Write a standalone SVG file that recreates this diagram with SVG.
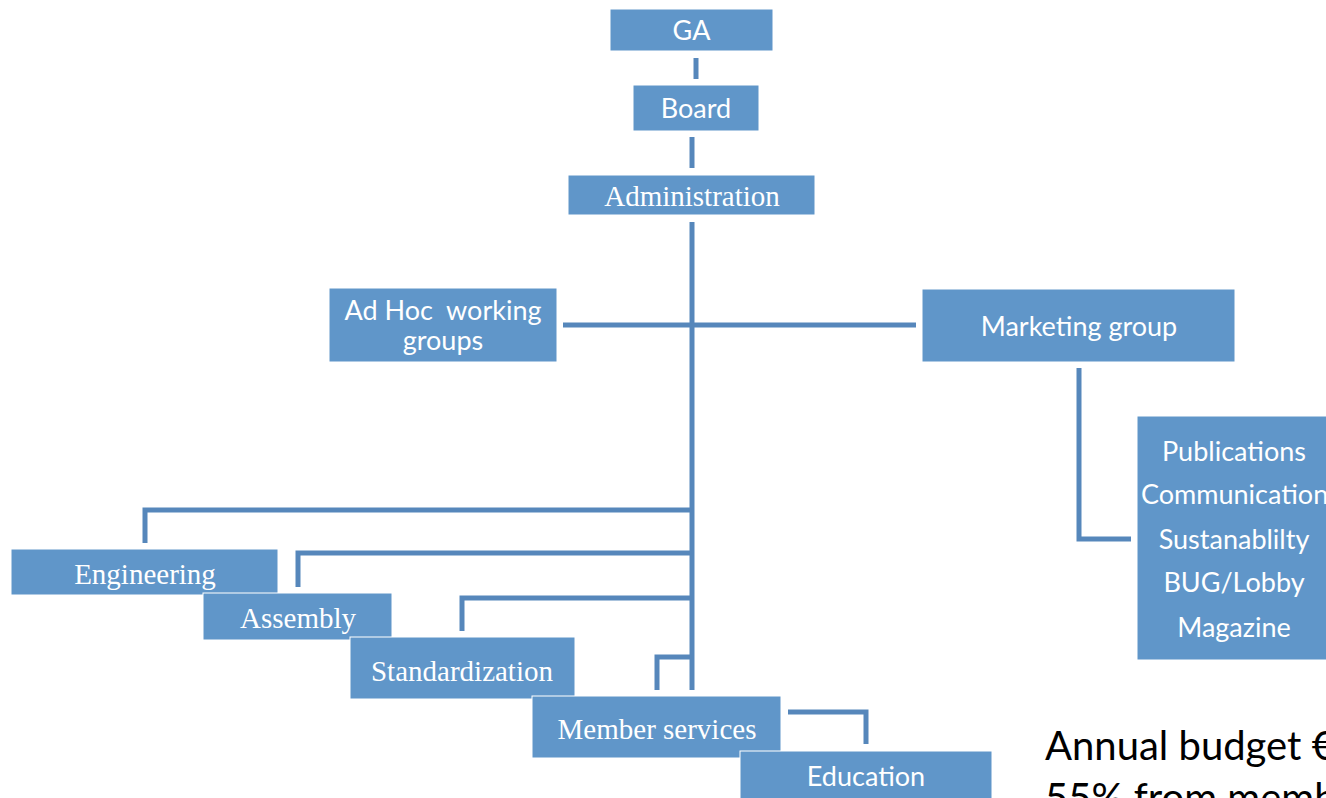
<svg xmlns="http://www.w3.org/2000/svg" width="1326" height="798" viewBox="0 0 1326 798">
<style>
.box{fill:#6096C9;stroke:#ffffff;stroke-width:1}
.c{fill:none;stroke:#5687BB;stroke-width:5}
.s{font-family:Lato,"Open Sans","Liberation Sans",sans-serif;font-size:27px;fill:#ffffff;text-anchor:middle}
.t{font-family:"Liberation Serif",serif;font-size:29px;fill:#ffffff;text-anchor:middle}
.b{font-family:Lato,"Open Sans","Liberation Sans",sans-serif;font-size:40px;fill:#000000}
</style>
<rect width="1326" height="798" fill="#ffffff"/>
<g id="connectors">
<line class="c" x1="696" y1="58" x2="696" y2="79" stroke="#4A7BAF"/>
<line class="c" x1="692" y1="137" x2="692" y2="168"/>
<line class="c" x1="692" y1="222" x2="692" y2="690"/>
<line class="c" x1="563" y1="325" x2="916" y2="325"/>
<polyline class="c" points="145,543 145,510 692,510"/>
<polyline class="c" points="298,587 298,553 692,553"/>
<polyline class="c" points="462,631 462,598 692,598"/>
<polyline class="c" points="657,690 657,657 692,657"/>
<polyline class="c" points="788,712 866,712 866,744"/>
<polyline class="c" points="1079,368 1079,539 1131,539"/>
</g>
<g id="ga"><rect class="box" x="610" y="9" width="163" height="42"/><text class="s" x="691.5" y="40">GA</text></g>
<g id="board"><rect class="box" x="633" y="85" width="126" height="46"/><text class="s" x="696" y="118">Board</text></g>
<g id="administration"><rect class="box" x="568" y="175" width="247" height="40"/><text class="t" x="692" y="206">Administration</text></g>
<g id="adhoc"><rect class="box" x="329" y="288" width="228" height="74"/><text class="s" x="443" y="320" xml:space="preserve">Ad Hoc  working</text><text class="s" x="443" y="350">groups</text></g>
<g id="marketing"><rect class="box" x="922" y="289" width="313" height="73"/><text class="s" x="1079" y="336">Marketing group</text></g>
<g id="publications"><rect class="box" x="1137" y="416" width="200" height="244"/>
<text class="s" x="1234" y="461">Publications</text>
<text class="s" x="1141" y="504" style="text-anchor:start">Communications</text>
<text class="s" x="1234" y="549">Sustanablilty</text>
<text class="s" x="1234" y="592">BUG/Lobby</text>
<text class="s" x="1234" y="637">Magazine</text></g>
<g id="engineering"><rect class="box" x="11" y="549" width="267" height="46"/><text class="t" x="145" y="584">Engineering</text></g>
<g id="assembly"><rect class="box" x="203" y="593" width="189" height="47"/><text class="t" x="298" y="628">Assembly</text></g>
<g id="standardization"><rect class="box" x="350" y="637" width="225" height="62"/><text class="t" x="462" y="681">Standardization</text></g>
<g id="memberservices"><rect class="box" x="532" y="696" width="249" height="62"/><text class="t" x="657" y="739">Member services</text></g>
<g id="education"><rect class="box" x="740" y="751" width="252" height="60"/><text class="s" x="866" y="786">Education</text></g>
<text class="b" x="1045" y="760">Annual budget €</text>
<text class="b" x="1045" y="812">55% from memb</text>
</svg>
